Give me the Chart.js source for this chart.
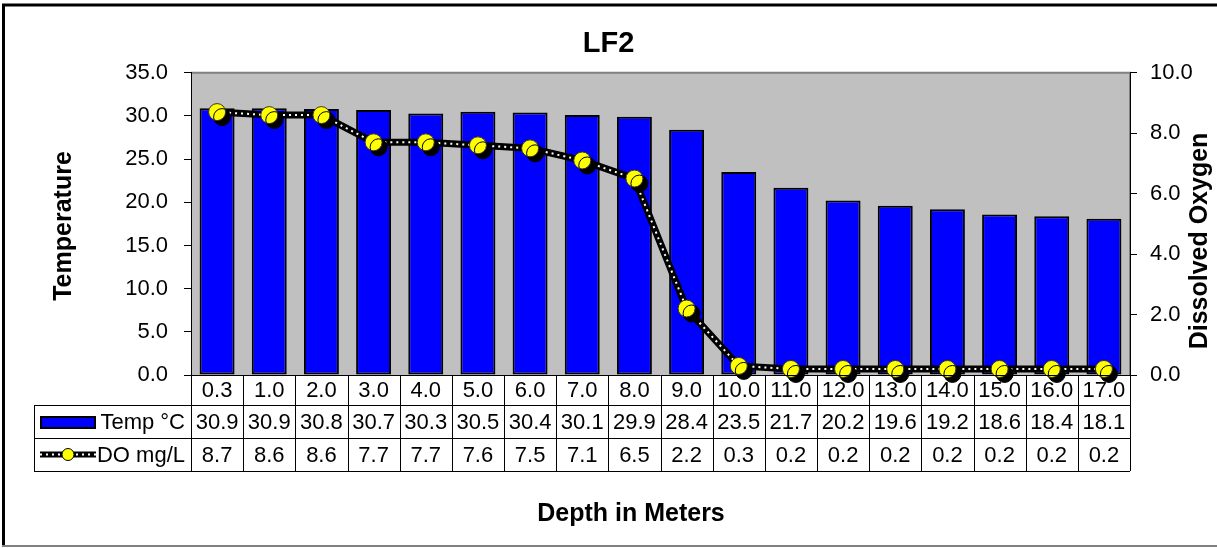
<!DOCTYPE html>
<html>
<head>
<meta charset="utf-8">
<script src="https://cdn.jsdelivr.net/npm/chart.js@4.4.1/dist/chart.umd.min.js"></script>
<style>
  html, body { margin: 0; padding: 0; background: #fff; }
  #wrap { width: 1217px; height: 548px; }
</style>
</head>
<body>
<div id="wrap"><canvas id="lf2Chart" width="1217" height="548"></canvas></div>
<script>
// depth categories (m)
const depths = ["0.3", "1.0", "2.0", "3.0", "4.0", "5.0", "6.0", "7.0", "8.0",
  "9.0", "10.0", "11.0", "12.0", "13.0", "14.0", "15.0", "16.0", "17.0"];
const tempC = [30.9, 30.9, 30.8, 30.7, 30.3, 30.5, 30.4, 30.1, 29.9,
  28.4, 23.5, 21.7, 20.2, 19.6, 19.2, 18.6, 18.4, 18.1];
const doMgL = [8.7, 8.6, 8.6, 7.7, 7.7, 7.6, 7.5, 7.1, 6.5,
  2.2, 0.3, 0.2, 0.2, 0.2, 0.2, 0.2, 0.2, 0.2];
const tempLabel = "Temp °C";
const doLabel = "DO mg/L";

const FONT = '"Liberation Sans", Arial, sans-serif';
const rowLines = [375, 405, 438, 471]; // data table rows
const tableLeft = 34;

function drawDoKey(ctx, x1, x2, y) {
  ctx.save();
  ctx.strokeStyle = "#000"; ctx.lineWidth = 6;
  ctx.beginPath(); ctx.moveTo(x1, y); ctx.lineTo(x2, y); ctx.stroke();
  ctx.strokeStyle = "#fff"; ctx.lineWidth = 2; ctx.setLineDash([2, 4]);
  ctx.beginPath(); ctx.moveTo(x1, y); ctx.lineTo(x2, y); ctx.stroke();
  ctx.setLineDash([]);
  ctx.fillStyle = "#ffff00"; ctx.strokeStyle = "#000"; ctx.lineWidth = 1;
  ctx.beginPath(); ctx.arc((x1 + x2) / 2, y, 6, 0, Math.PI * 2); ctx.fill(); ctx.stroke();
  ctx.restore();
}

const lf2Frame = {
  id: "lf2Frame",
  beforeDraw(chart) {
    const { ctx, chartArea: a } = chart;
    ctx.save();
    ctx.fillStyle = "#fff";
    ctx.fillRect(0, 0, chart.width, chart.height);
    ctx.fillStyle = "#c0c0c0";
    ctx.fillRect(a.left, a.top, a.right - a.left, a.bottom - a.top);
    ctx.strokeStyle = "#808080"; ctx.lineWidth = 2;
    ctx.beginPath();
    ctx.moveTo(a.left, a.top); ctx.lineTo(a.right, a.top); ctx.lineTo(a.right, a.bottom);
    ctx.stroke();
    // chart frame
    ctx.strokeStyle = "#000"; ctx.lineWidth = 3;
    ctx.beginPath(); ctx.moveTo(3.5, 546); ctx.lineTo(3.5, 5); ctx.lineTo(1217, 5); ctx.stroke();
    ctx.strokeStyle = "#808080"; ctx.lineWidth = 2;
    ctx.beginPath(); ctx.moveTo(2, 546); ctx.lineTo(1217, 546); ctx.stroke();
    ctx.restore();
  },
  beforeDatasetDraw(chart, args) {
    if (args.meta.type === "line" && chart.data.datasets[args.index].showLine === false) {
      chart.ctx.save();
      chart.ctx.shadowColor = "#000";
      chart.ctx.shadowOffsetX = 5;
      chart.ctx.shadowOffsetY = 5;
    }
  },
  afterDatasetDraw(chart, args) {
    if (args.meta.type === "line" && chart.data.datasets[args.index].showLine === false) {
      chart.ctx.restore();
    }
  },
  afterDraw(chart) {
    const { ctx, chartArea: a } = chart;
    const x = chart.scales.x;
    const half = (x.getPixelForValue(1) - x.getPixelForValue(0)) / 2;
    ctx.save();
    // grid of the data table
    ctx.strokeStyle = "#000"; ctx.lineWidth = 1;
    ctx.beginPath();
    ctx.moveTo(a.left, rowLines[0] + 0.5); ctx.lineTo(a.right, rowLines[0] + 0.5);
    for (let r = 1; r < rowLines.length; r++) {
      ctx.moveTo(tableLeft, rowLines[r] + 0.5); ctx.lineTo(a.right, rowLines[r] + 0.5);
    }
    ctx.moveTo(tableLeft + 0.5, rowLines[1]); ctx.lineTo(tableLeft + 0.5, rowLines[3]);
    ctx.moveTo(Math.round(a.left) + 0.5, rowLines[0]); ctx.lineTo(Math.round(a.left) + 0.5, rowLines[3]);
    depths.forEach((d, i) => {
      const xr = Math.round(x.getPixelForValue(i) + half) + 0.5;
      ctx.moveTo(xr, rowLines[0]); ctx.lineTo(xr, rowLines[3]);
    });
    ctx.stroke();

    ctx.fillStyle = "#000";
    ctx.font = "22px " + FONT;
    ctx.textAlign = "center"; ctx.textBaseline = "middle";
    const mid = r => (rowLines[r] + rowLines[r + 1]) / 2 + 1;
    depths.forEach((d, i) => {
      const cx = x.getPixelForValue(i);
      ctx.fillText(d, cx, mid(0));
      ctx.fillText(tempC[i].toFixed(1), cx, mid(1));
      ctx.fillText(doMgL[i].toFixed(1), cx, mid(2));
    });
    // legend keys in the table
    ctx.textAlign = "right";
    ctx.fillText(tempLabel, 185, mid(1));
    ctx.fillText(doLabel, 185, mid(2));
    ctx.fillStyle = "#0000ff"; ctx.strokeStyle = "#000"; ctx.lineWidth = 2;
    ctx.fillRect(41, 417, 54, 11); ctx.strokeRect(41, 417, 54, 11);
    drawDoKey(ctx, 40, 96, mid(2) - 1);

    // axis titles
    ctx.fillStyle = "#000";
    ctx.font = "bold 25px " + FONT;
    ctx.textAlign = "center";
    ctx.fillText("Depth in Meters", 631, 514);
    ctx.translate(64, 226); ctx.rotate(-Math.PI / 2);
    ctx.fillText("Temperature", 0, 0);
    ctx.setTransform(1, 0, 0, 1, 0, 0);
    ctx.translate(1200, 241); ctx.rotate(-Math.PI / 2);
    ctx.fillText("Dissolved Oxygen", 0, 0);
    ctx.restore();
  }
};

Chart.defaults.color = "#000";
Chart.defaults.font.family = FONT;

new Chart(document.getElementById("lf2Chart"), {
  data: {
    labels: depths,
    datasets: [
      {
        type: "bar", label: tempLabel, data: tempC, yAxisID: "y", order: 4,
        backgroundColor: "#0000ff", borderColor: "#000", borderWidth: 2,
        borderSkipped: false, categoryPercentage: 1, barPercentage: 0.67
      },
      {
        type: "line", label: doLabel, data: doMgL, yAxisID: "y1", order: 3,
        borderColor: "#000", borderWidth: 7, pointRadius: 0, tension: 0
      },
      {
        type: "line", label: doLabel, data: doMgL, yAxisID: "y1", order: 2,
        borderColor: "#fff", borderWidth: 2, borderDash: [2, 4], pointRadius: 0, tension: 0
      },
      {
        type: "line", label: doLabel, data: doMgL, yAxisID: "y1", order: 1,
        showLine: false, clip: false,
        pointRadius: 8.5, pointBackgroundColor: "#ffff00",
        pointBorderColor: "#333", pointBorderWidth: 1
      }
    ]
  },
  options: {
    responsive: false,
    devicePixelRatio: 1,
    animation: false,
    layout: { padding: 0 },
    plugins: {
      legend: { display: false },
      tooltip: { enabled: false },
      title: {
        display: true, text: "LF2",
        font: { size: 29, weight: "bold" },
        padding: { top: 27, bottom: 11 }
      }
    },
    scales: {
      x: {
        ticks: { display: false },
        grid: { display: false },
        border: { display: false },
        afterFit(s) { s.height = 173; }
      },
      y: {
        position: "left", min: 0, max: 35,
        ticks: { stepSize: 5, padding: 16, font: { size: 22 }, callback: v => v.toFixed(1) },
        grid: { drawOnChartArea: false, tickLength: 7, color: "#000" },
        border: { color: "#000", width: 1 },
        afterFit(s) { s.width = 191; }
      },
      y1: {
        position: "right", min: 0, max: 10,
        ticks: { stepSize: 2, padding: 13, font: { size: 22 }, callback: v => v.toFixed(1) },
        grid: { drawOnChartArea: false, tickLength: 7, color: "#000" },
        border: { color: "#000", width: 1 },
        afterFit(s) { s.width = 87; }
      }
    }
  },
  plugins: [lf2Frame]
});
</script>
</body>
</html>
